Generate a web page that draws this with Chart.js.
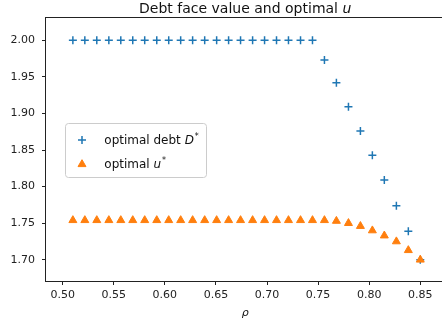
<!DOCTYPE html>
<html><head><meta charset="utf-8">
<script src="https://cdn.jsdelivr.net/npm/chart.js@4.4.0/dist/chart.umd.min.js"></script>
<style>
html,body{margin:0;padding:0;background:#fff;overflow:hidden;width:442px;height:326px;}
#wrap{position:absolute;left:0;top:0;width:450px;height:326px;}
</style></head><body>
<div id="wrap"><canvas id="c" width="450" height="326"></canvas></div>
<script>
// ---- data ----
const rho = [0.5100,0.5217,0.5334,0.5452,0.5569,0.5686,0.5803,0.5921,0.6038,0.6155,
             0.6272,0.6390,0.6507,0.6624,0.6741,0.6859,0.6976,0.7093,0.7210,0.7328,
             0.7445,0.7562,0.7679,0.7797,0.7914,0.8031,0.8148,0.8266,0.8383,0.8500];
const debtD = [2.000,2.000,2.000,2.000,2.000,2.000,2.000,2.000,2.000,2.000,
               2.000,2.000,2.000,2.000,2.000,2.000,2.000,2.000,2.000,2.000,
               2.000,1.973,1.942,1.909,1.876,1.843,1.809,1.774,1.739,1.700];
const optU = [1.754,1.754,1.754,1.754,1.754,1.754,1.754,1.754,1.754,1.754,
              1.754,1.754,1.754,1.754,1.754,1.754,1.754,1.754,1.754,1.754,
              1.754,1.754,1.753,1.750,1.746,1.740,1.733,1.725,1.713,1.700];
const xTicks = [0.50,0.55,0.60,0.65,0.70,0.75,0.80,0.85];
const yTicks = [1.70,1.75,1.80,1.85,1.90,1.95,2.00];
const xRange = [0.4837, 0.8736];
const yRange = [1.671, 2.0304];

const BLUE = '#1f77b4', ORANGE = '#ff7f0e';
const FONT = "'DejaVu Sans', sans-serif";

const framePlugin = {
  id: 'frame',
  afterDraw(chart) {
    const {ctx, chartArea: a} = chart;
    ctx.save();
    ctx.strokeStyle = '#222';
    ctx.lineWidth = 1;
    ctx.strokeRect(a.left - 0.5, a.top - 0.5, a.right - a.left + 1, a.bottom - a.top + 1);
    // title
    const normal = 'Debt face value and optimal ';
    ctx.fillStyle = '#111';
    ctx.textBaseline = 'alphabetic';
    ctx.font = '14px ' + FONT;
    const w1 = ctx.measureText(normal).width;
    ctx.font = 'italic 14px ' + FONT;
    const w2 = ctx.measureText('u').width;
    const cx = (a.left + a.right) / 2;
    let x0 = cx - (w1 + w2) / 2;
    ctx.font = '14px ' + FONT;
    ctx.textAlign = 'left';
    ctx.fillText(normal, x0, 12.5);
    ctx.font = 'italic 14px ' + FONT;
    ctx.fillText('u', x0 + w1, 12.5);

    // legend
    const bx = 65.5, by = 123.5, bw = 141, bh = 54;
    ctx.beginPath();
    if (ctx.roundRect) ctx.roundRect(bx, by, bw, bh, 3); else ctx.rect(bx, by, bw, bh);
    ctx.fillStyle = 'rgba(255,255,255,0.8)';
    ctx.fill();
    ctx.strokeStyle = '#cccccc';
    ctx.lineWidth = 1;
    ctx.stroke();

    const ds = chart.data.datasets;
    ctx.strokeStyle = BLUE; ctx.fillStyle = BLUE; ctx.lineWidth = ds[0].pointBorderWidth;
    Chart.helpers.drawPoint(ctx, {pointStyle: ds[0].pointStyle, radius: ds[0].pointRadius, rotation: 0, borderWidth: ds[0].pointBorderWidth}, 82, 140);
    ctx.strokeStyle = ORANGE; ctx.fillStyle = ORANGE; ctx.lineWidth = ds[1].pointBorderWidth;
    Chart.helpers.drawPoint(ctx, {pointStyle: ds[1].pointStyle, radius: ds[1].pointRadius, rotation: 0, borderWidth: ds[1].pointBorderWidth}, 82, 164.3);

    ctx.fillStyle = '#111';
    ctx.textAlign = 'left';
    ctx.textBaseline = 'alphabetic';
    const drawLabel = (parts, x, y) => {
      for (const p of parts) {
        ctx.font = (p.it ? 'italic ' : '') + (p.sup ? '8px ' : '12px ') + FONT;
        ctx.fillText(p.t, x, y - (p.sup ? 5 : 0));
        x += ctx.measureText(p.t).width + (p.gap || 0);
      }
    };
    drawLabel([{t: 'optimal debt '}, {t: 'D', it: true, gap: 1}, {t: '*', sup: true}], 104.3, 144);
    drawLabel([{t: 'optimal '}, {t: 'u', it: true, gap: 1}, {t: '*', sup: true}], 104.3, 167.5);
    ctx.restore();
  }
};

const pts = (ys) => rho.map((x, i) => ({x: x, y: ys[i]}));

new Chart(document.getElementById('c'), {
  type: 'scatter',
  data: {
    datasets: [
      {label: 'optimal debt D*', data: pts(debtD), order: 1,
       pointStyle: 'cross', pointRadius: 4, pointBorderWidth: 1.5,
       pointBorderColor: BLUE, pointBackgroundColor: BLUE, borderColor: BLUE, backgroundColor: BLUE},
      {label: 'optimal u*', data: pts(optU), order: 0,
       pointStyle: 'triangle', pointRadius: 4.6, pointBorderWidth: 1,
       pointBorderColor: ORANGE, pointBackgroundColor: ORANGE, borderColor: ORANGE, backgroundColor: ORANGE}
    ]
  },
  options: {
    responsive: false,
    animation: false,
    events: [],
    layout: {padding: {left: 0, right: 4, top: 18, bottom: 0}},
    plugins: {legend: {display: false}, tooltip: {enabled: false}, title: {display: false}},
    scales: {
      x: {
        type: 'linear', min: xRange[0], max: xRange[1],
        afterBuildTicks: (s) => { s.ticks = xTicks.map(v => ({value: v})); },
        afterFit: (s) => { s.height = 45; },
        ticks: {callback: (v) => Number(v).toFixed(2), font: {family: FONT, size: 11}, color: '#222', padding: 4, maxRotation: 0, autoSkip: false},
        grid: {display: true, drawOnChartArea: false, drawTicks: true, tickLength: 4, tickColor: '#222', tickWidth: 1},
        border: {display: false},
        title: {display: true, text: 'ρ', font: {family: FONT, size: 11, style: 'italic'}, color: '#111', padding: {top: 0, bottom: 6}}
      },
      y: {
        type: 'linear', min: yRange[0], max: yRange[1],
        afterBuildTicks: (s) => { s.ticks = yTicks.map(v => ({value: v})); },
        afterFit: (s) => { s.width = 46; },
        ticks: {callback: (v) => Number(v).toFixed(2), font: {family: FONT, size: 11}, color: '#222', padding: 7, autoSkip: false},
        grid: {display: true, drawOnChartArea: false, drawTicks: true, tickLength: 4, tickColor: '#222', tickWidth: 1},
        border: {display: false}
      }
    }
  },
  plugins: [framePlugin]
});
</script>
</body></html>
